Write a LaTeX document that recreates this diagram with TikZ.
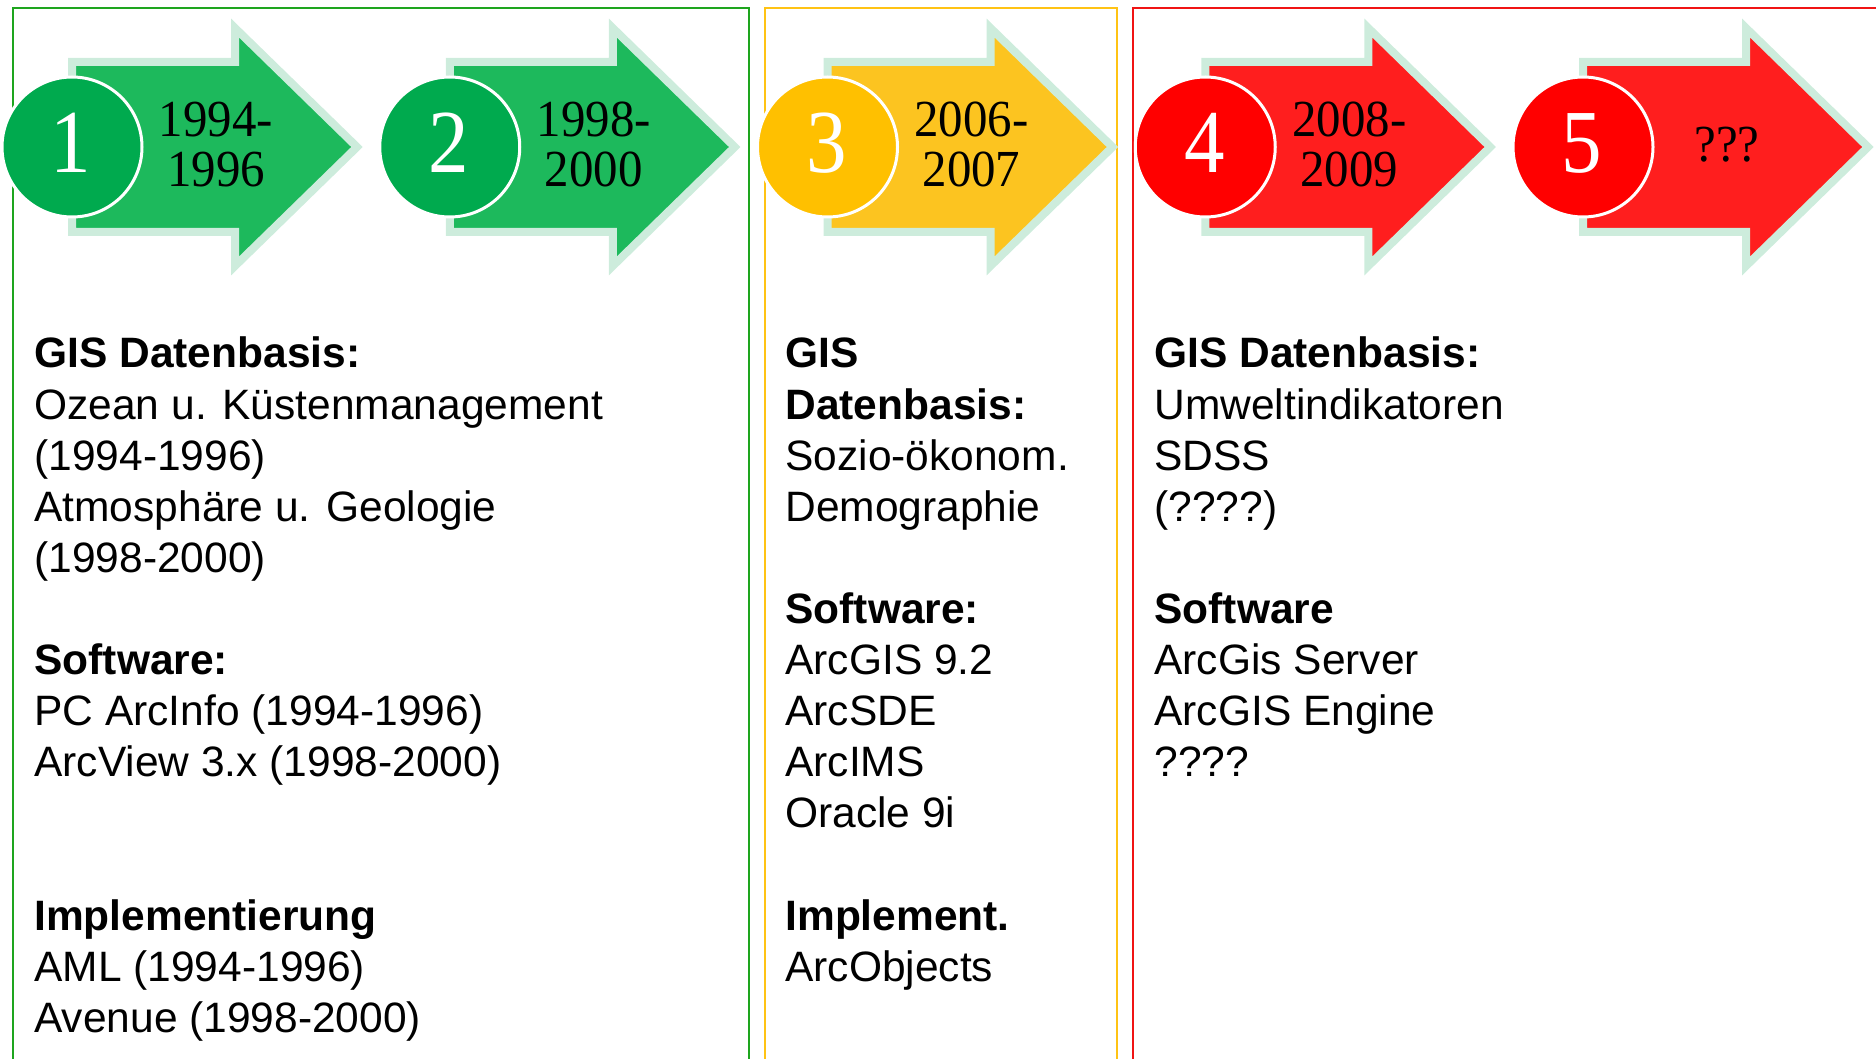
\documentclass[tikz,border=0pt]{standalone}
\usepackage{fontspec}
\setmainfont{Liberation Sans}
\newfontfamily\serifyear{Liberation Serif}
\definecolor{arrG}{RGB}{29,185,92}
\definecolor{cirG}{RGB}{0,170,78}
\definecolor{arrY}{RGB}{252,196,32}
\definecolor{cirY}{RGB}{255,192,0}
\definecolor{arrR}{RGB}{255,30,30}
\definecolor{cirR}{RGB}{255,0,0}
\definecolor{glow}{RGB}{205,236,220}
\definecolor{frG}{RGB}{30,165,30}
\definecolor{frY}{RGB}{255,195,20}
\definecolor{frR}{RGB}{240,20,20}
\begin{document}
\begin{tikzpicture}[x=0.5pt,y=-0.5pt,
  bodytxt/.style={anchor=base west,inner sep=0pt,font=\fontsize{21.25}{25.5}\selectfont},
  headtxt/.style={bodytxt,font=\fontsize{21.25}{25.5}\selectfont\bfseries},
  yeartxt/.style={anchor=base,inner sep=0pt,xscale=0.94,font=\serifyear\fontsize{26}{26}\selectfont},
  numtxt/.style={anchor=base,inner sep=0pt,text=white,xscale=0.9,font=\serifyear\fontsize{45}{45}\selectfont},
  frame/.style={line width=1pt},
  arrowbody/.style={draw=glow,line width=4pt,line join=miter},
  badge/.style={circle,draw=white,line width=1.5pt,minimum size=70pt,inner sep=0pt}]
\useasboundingbox (0,0) rectangle (1876,1059);
\clip (0,0) rectangle (1876,1059);
% frames
\draw[frame,frG] (13,1070) -- (13,8) -- (749,8) -- (749,1070);
\draw[frame,frY] (765,1070) -- (765,8) -- (1117,8) -- (1117,1070);
\draw[frame,frR] (1133,1070) -- (1133,8) -- (1890,8);
% arrows
\foreach \k/\ac/\cc/\num in {0/arrG/cirG/1,1/arrG/cirG/2,2/arrY/cirY/3,3/arrR/cirR/4,4/arrR/cirR/5}{
  \begin{scope}[xshift=\k*377.75*0.5pt]
    \draw[arrowbody,fill=\ac] (72,62) -- (235,62) -- (235,28) -- (357,147) -- (235,266) -- (235,232) -- (72,232) -- cycle;
    \node[badge,fill=\cc] (c\num) at (72,147) {};
    \node[numtxt] (n\num) at (71,173) {\num};
  \end{scope}
}
% years
\node[yeartxt] (y1a) at (216,137) {1994-};
\node[yeartxt] (y1b) at (216,187) {1996};
\node[yeartxt] (y2a) at (593.75,137) {1998-};
\node[yeartxt] (y2b) at (593.75,187) {2000};
\node[yeartxt] (y3a) at (971.5,137) {2006-};
\node[yeartxt] (y3b) at (971.5,187) {2007};
\node[yeartxt] (y4a) at (1349.25,137) {2008-};
\node[yeartxt] (y4b) at (1349.25,187) {2009};
\node[yeartxt] (y5) at (1727,162) {???};
% left column
\foreach \i/\t in {0/{GIS Datenbasis:},6/{Software:},11/{Implementierung}}
  \node[headtxt] (Lh\i) at (34,368+51.1*\i) {\t};
\foreach \i/\t in {1/{Ozean u. Küstenmanagement},2/{(1994-1996)},3/{Atmosphäre u. Geologie},4/{(1998-2000)},7/{PC ArcInfo (1994-1996)},8/{ArcView 3.x (1998-2000)},12/{AML (1994-1996)},13/{Avenue (1998-2000)}}
  \node[bodytxt] (L\i) at (34,368+51.1*\i) {\t};
% middle column
\foreach \i/\t in {0/{GIS},1/{Datenbasis:},5/{Software:},11/{Implement.}}
  \node[headtxt] (Mh\i) at (785,368+51.1*\i) {\t};
\foreach \i/\t in {2/{Sozio-ökonom.},3/{Demographie},6/{ArcGIS 9.2},7/{ArcSDE},8/{ArcIMS},9/{Oracle 9i},12/{ArcObjects}}
  \node[bodytxt] (M\i) at (785,368+51.1*\i) {\t};
% right column
\foreach \i/\t in {0/{GIS Datenbasis:},5/{Software}}
  \node[headtxt] (Rh\i) at (1154,368+51.1*\i) {\t};
\foreach \i/\t in {1/{Umweltindikatoren},2/{SDSS},3/{(????)},6/{ArcGis Server},7/{ArcGIS Engine},8/{????}}
  \node[bodytxt] (R\i) at (1154,368+51.1*\i) {\t};
\end{tikzpicture}
\end{document}
